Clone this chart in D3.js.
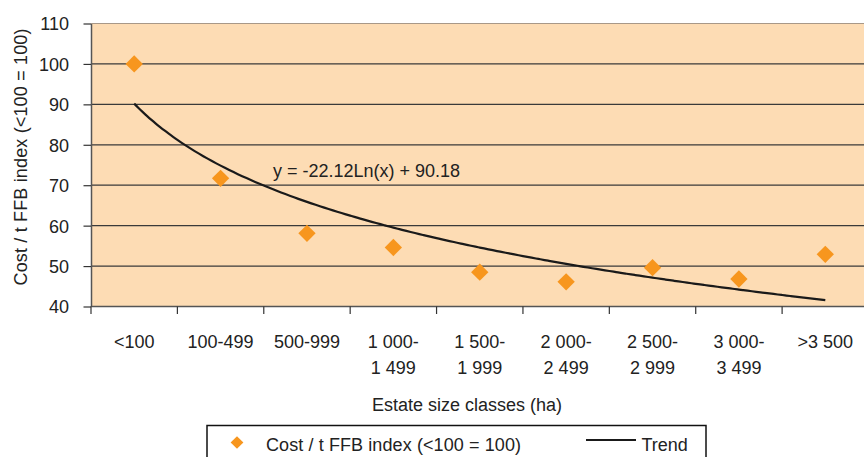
<!DOCTYPE html>
<html>
<head>
<meta charset="utf-8">
<script src="https://cdn.jsdelivr.net/npm/d3@7"></script>
<style>
  html, body { margin: 0; padding: 0; background: #fff; }
  svg { display: block; font-family: "Liberation Sans", Arial, sans-serif; }
</style>
</head>
<body>
<svg id="chart" width="864" height="457"></svg>
<script>
// Estate size classes (two-line labels) and the cost index per class
const categories = [
  ["<100"], ["100-499"], ["500-999"], ["1 000-", "1 499"], ["1 500-", "1 999"],
  ["2 000-", "2 499"], ["2 500-", "2 999"], ["3 000-", "3 499"], [">3 500"]
];
const costIndex = [100, 71.7, 58.1, 54.6, 48.5, 46.1, 49.6, 46.8, 52.9];
const yTicks = [40, 50, 60, 70, 80, 90, 100, 110];
// Logarithmic trend: y = a*ln(x) + b
const trendA = -22.12, trendB = 90.18;

const FS = 18;
const svg = d3.select("#chart");
const margin = { left: 91, top: 23.5, right: 868.5, bottom: 306.5 };

const x = d3.scaleBand()
  .domain(d3.range(categories.length))
  .range([margin.left, margin.right])
  .paddingInner(0).paddingOuter(0);
const y = d3.scaleLinear().domain([40, 110]).range([margin.bottom, margin.top]);

// Plot background
svg.append("rect")
  .attr("x", margin.left).attr("y", margin.top)
  .attr("width", margin.right - margin.left).attr("height", margin.bottom - margin.top)
  .attr("fill", "#FDDCB4");

// Horizontal gridlines
svg.append("g").selectAll("line")
  .data(yTicks.filter(d => d > 40))
  .join("line")
  .attr("x1", margin.left).attr("x2", margin.right)
  .attr("y1", d => y(d)).attr("y2", d => y(d))
  .attr("stroke", d => d === 110 ? "#A89888" : "#3a3a3a")
  .attr("stroke-width", 1.2);

// Y axis
const yAxis = svg.append("g")
  .attr("transform", `translate(${margin.left},0)`)
  .call(d3.axisLeft(y).tickValues(yTicks).tickSize(7.5).tickPadding(14.5).tickSizeOuter(0));
yAxis.attr("font-family", null).attr("font-size", null);
yAxis.select(".domain").attr("stroke", "#555").attr("stroke-width", 1.5);
yAxis.selectAll(".tick line").attr("stroke", "#333").attr("stroke-width", 1.2);
yAxis.selectAll(".tick text")
  .attr("font-size", FS).attr("fill", "#222").attr("dy", "0.36em");

// X axis: ticks on category boundaries
const boundaries = d3.range(categories.length).map(i => x(i));
svg.append("line")
  .attr("x1", margin.left).attr("x2", margin.right)
  .attr("y1", margin.bottom).attr("y2", margin.bottom)
  .attr("stroke", "#555").attr("stroke-width", 1.5);
svg.append("g").selectAll("line")
  .data(boundaries)
  .join("line")
  .attr("x1", d => d).attr("x2", d => d)
  .attr("y1", margin.bottom).attr("y2", margin.bottom + 7.5)
  .attr("stroke", "#333").attr("stroke-width", 1.2);

// Category labels
const xl = svg.append("g").attr("font-size", FS).attr("fill", "#222").attr("text-anchor", "middle");
categories.forEach((lines, i) => {
  const cx = x(i) + x.bandwidth() / 2;
  const t = xl.append("text").attr("x", cx);
  lines.forEach((ln, j) => {
    t.append("tspan").attr("x", cx).attr("y", 347.5 + j * 26).text(ln);
  });
});

// Trend curve
const trendPts = d3.range(1, categories.length + 0.001, 0.05).map(v => [v, trendA * Math.log(v) + trendB]);
const xPos = v => x(0) + x.bandwidth() / 2 + (v - 1) * x.step();
svg.append("path")
  .datum(trendPts)
  .attr("d", d3.line().x(d => xPos(d[0])).y(d => y(d[1])).curve(d3.curveMonotoneX))
  .attr("fill", "none").attr("stroke", "#1a1a1a").attr("stroke-width", 2.2);

// Data points (diamonds)
const diamond = d3.symbol().type(d3.symbolSquare).size(150);
svg.append("g").selectAll("path")
  .data(costIndex)
  .join("path")
  .attr("d", diamond)
  .attr("transform", (d, i) => `translate(${x(i) + x.bandwidth() / 2},${y(d)}) rotate(45)`)
  .attr("fill", "#F7961E");

// Trend equation
svg.append("text")
  .attr("x", 273).attr("y", 177)
  .attr("font-size", FS).attr("fill", "#222")
  .text(`y = ${trendA.toFixed(2)}Ln(x) + ${trendB.toFixed(2)}`);

// Axis titles
svg.append("text")
  .attr("transform", "translate(27,157) rotate(-90)")
  .attr("text-anchor", "middle").attr("font-size", FS).attr("fill", "#222")
  .attr("textLength", 257).attr("lengthAdjust", "spacing")
  .text("Cost / t FFB index (<100 = 100)");
svg.append("text")
  .attr("x", 467).attr("y", 410.5)
  .attr("text-anchor", "middle").attr("font-size", FS).attr("fill", "#222")
  .text("Estate size classes (ha)");

// Legend
const lg = svg.append("g");
lg.append("rect")
  .attr("x", 207).attr("y", 425.5).attr("width", 499).attr("height", 40)
  .attr("fill", "#fff").attr("stroke", "#111").attr("stroke-width", 1.5);
lg.append("path")
  .attr("d", d3.symbol().type(d3.symbolSquare).size(81))
  .attr("transform", "translate(237,442.5) rotate(45)")
  .attr("fill", "#F7961E");
lg.append("text")
  .attr("x", 266).attr("y", 450.5).attr("font-size", FS).attr("fill", "#222")
  .attr("textLength", 255).attr("lengthAdjust", "spacing")
  .text("Cost / t FFB index (<100 = 100)");
lg.append("line")
  .attr("x1", 586).attr("x2", 636).attr("y1", 440).attr("y2", 440)
  .attr("stroke", "#1a1a1a").attr("stroke-width", 2);
lg.append("text")
  .attr("x", 641.5).attr("y", 450.5).attr("font-size", FS).attr("fill", "#222")
  .text("Trend");
</script>
</body>
</html>
